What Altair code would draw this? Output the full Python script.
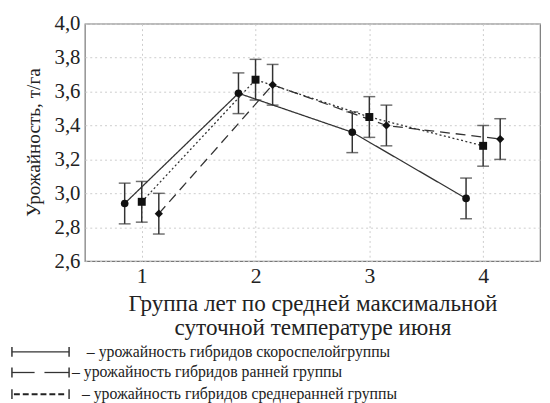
import altair as alt
import pandas as pd

groups = [1, 2, 3, 4]
series_names = ["скороспелая", "ранняя", "среднеранняя"]
yield_early_ripe = [2.94, 3.59, 3.36, 2.97]
yield_early = [2.95, 3.67, 3.45, 3.28]
yield_mid_early = [2.88, 3.64, 3.40, 3.32]
err_early_ripe = [0.12, 0.12, 0.12, 0.12]
err_early = [0.12, 0.12, 0.12, 0.12]
err_mid_early = [0.12, 0.12, 0.12, 0.12]
offsets = [-0.15, 0.0, 0.15]

legend_labels = [
    "– урожайность гибридов скороспелойгруппы",
    "– урожайность гибридов ранней группы",
    "– урожайность гибридов среднеранней группы",
]

rows = []
for name, off, vals, errs in zip(series_names, offsets,
                                 [yield_early_ripe, yield_early, yield_mid_early],
                                 [err_early_ripe, err_early, err_mid_early]):
    for g, v, e in zip(groups, vals, errs):
        rows.append({"group": g, "series": name, "xpos": g + off,
                     "y": v, "lo": v - e, "hi": v + e})
df = pd.DataFrame(rows)

FONT = "Liberation Serif"
INK = "#222222"

xscale = alt.Scale(domain=[0.5, 4.5], nice=False, zero=False)
yscale = alt.Scale(domain=[2.6, 4.0], nice=False, zero=False)

dash_scale = alt.Scale(domain=series_names, range=[[1, 0], [2, 2.5], [10, 6]])
shape_scale = alt.Scale(domain=series_names, range=["circle", "square", "diamond"])
size_scale = alt.Scale(domain=series_names, range=[60, 70, 28])

x_axis = alt.Axis(values=groups, format="d",
                  title=["Группа лет по средней максимальной",
                         "суточной температуре июня"])
y_axis = alt.Axis(values=[2.6, 2.8, 3.0, 3.2, 3.4, 3.6, 3.8, 4.0],
                  labelOverlap=False,
                  labelExpr="replace(format(datum.value, '.1f'), '.', ',')",
                  title="Урожайность, т/га")

def X(f):
    return alt.X(f, type="quantitative", scale=xscale, axis=x_axis)

def Y(f):
    return alt.Y(f, type="quantitative", scale=yscale, axis=y_axis)

base = alt.Chart(df)

lines = base.mark_line(color="#333333", strokeWidth=1.3).encode(
    x=X("xpos"), y=Y("y"),
    detail="series:N",
    strokeDash=alt.StrokeDash("series:N", scale=dash_scale, legend=None),
)

err_rules = base.mark_rule(color="#333333", strokeWidth=1.5).encode(
    x=X("xpos"), y=Y("lo"), y2="hi:Q")
cap_lo = base.mark_tick(color="#333333", orient="horizontal", size=12, thickness=1.5).encode(
    x=X("xpos"), y=Y("lo"))
cap_hi = base.mark_tick(color="#333333", orient="horizontal", size=12, thickness=1.5).encode(
    x=X("xpos"), y=Y("hi"))

points = base.mark_point(filled=True, color="#111111", opacity=1).encode(
    x=X("xpos"), y=Y("y"),
    shape=alt.Shape("series:N", scale=shape_scale, legend=None),
    size=alt.Size("series:N", scale=size_scale, legend=None),
)

# legend drawn below the plot
leg = pd.DataFrame({"label": legend_labels, "row": [0, 1, 2]})
leg_base = alt.Chart(leg)
row_y = [333, 354, 376]
text_x = [2, -13, -3]

legend_layers = []
for i in range(3):
    sub = leg_base.transform_filter(alt.datum.row == i)
    legend_layers.append(
        sub.mark_text(align="left", baseline="middle", font=FONT, fontSize=16,
                      color=INK).encode(text="label:N", x=alt.value(text_x[i]),
                                        y=alt.value(row_y[i])))
    for xx in (-74, -16):
        legend_layers.append(
            sub.mark_rule(color="#333333", strokeWidth=1.5).encode(
                x=alt.value(xx), y=alt.value(row_y[i] - 5), y2=alt.value(row_y[i] + 5)))

legend_layers.append(leg_base.transform_filter(alt.datum.row == 0).mark_rule(
    color="#333333", strokeWidth=1.3).encode(
    x=alt.value(-74), x2=alt.value(-16), y=alt.value(row_y[0])))
legend_layers.append(leg_base.transform_filter(alt.datum.row == 1).mark_rule(
    color="#333333", strokeWidth=1.3).encode(
    x=alt.value(-74), x2=alt.value(-51), y=alt.value(row_y[1])))
legend_layers.append(leg_base.transform_filter(alt.datum.row == 1).mark_rule(
    color="#333333", strokeWidth=1.3).encode(
    x=alt.value(-41), x2=alt.value(-16), y=alt.value(row_y[1])))
legend_layers.append(leg_base.transform_filter(alt.datum.row == 2).mark_rule(
    color="#222222", strokeWidth=2, strokeDash=[6, 3]).encode(
    x=alt.value(-72), x2=alt.value(-18), y=alt.value(row_y[2])))

chart = alt.layer(lines, err_rules, cap_lo, cap_hi, points, *legend_layers).properties(
    width=462, height=241,
    autosize=alt.AutoSizeParams(type="none"),
    padding={"left": 78, "top": 13, "right": 2, "bottom": 141},
).configure_view(
    stroke="#777777", strokeWidth=1.2
).configure_axis(
    domain=False, ticks=False, labelOverlap=False,
    grid=True, gridColor="#cccccc", gridDash=[2, 3], gridWidth=1,
    labelFont=FONT, titleFont=FONT, labelColor=INK, titleColor=INK,
    titleFontWeight="normal",
).configure_axisX(
    labelFontSize=22, labelPadding=5,
    titleFontSize=23.5, titleLineHeight=24, titleY=31, titleBaseline="top",
).configure_axisY(
    labelFontSize=21, labelPadding=5,
    titleFontSize=19.5, titleX=-52, titleY=120, titleAlign="center",
    titleBaseline="middle", titleAngle=-90,
)

chart.save("out.html", embed_options={"renderer": "svg", "actions": False})
